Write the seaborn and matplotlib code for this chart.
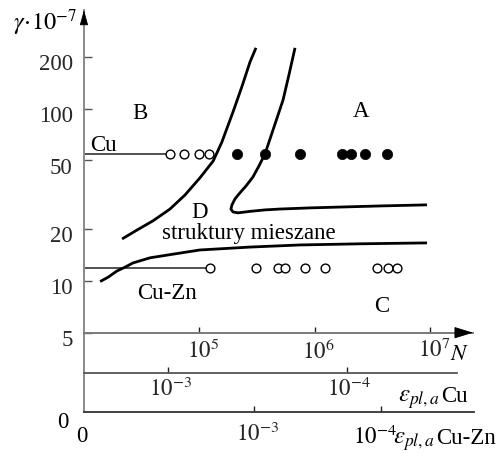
import matplotlib
matplotlib.use("Agg")
import matplotlib.pyplot as plt
import matplotlib.transforms as mtransforms
from matplotlib.ticker import NullLocator
import seaborn as sns

# ---------------------------------------------------------------- data
# Cu specimens (one shear-strain level): open = no localisation, filled = localisation
cu_gamma = 54.3
cu_open_N = [5.57e4, 7.37e4, 9.94e4, 1.21e5]
cu_filled_N = [2.14e5, 3.71e5, 7.46e5, 1.72e6, 2.07e6, 2.73e6, 4.26e6]

# Cu-Zn specimens
cuzn_gamma = 11.8
cuzn_open_N = [1.24e5, 3.10e5, 4.84e5, 5.53e5, 8.25e5, 1.23e6, 3.45e6, 4.35e6, 5.14e6]

# boundary between fields B and D
bd_N = [2.14e4, 2.88e4, 3.97e4, 5.57e4, 7.52e4, 1.01e5, 1.32e5, 1.57e5,
        1.96e5, 2.35e5, 2.75e5, 3.10e5]
bd_gamma = [17.5, 19.7, 22.3, 26.1, 31.5, 39.5, 49.6, 63.9,
            95.5, 135, 186, 225]

# boundary of field A (turns into the upper edge of the mixed-structure band)
da_N = [6.76e5, 5.99e5, 5.32e5, 4.72e5, 4.27e5, 3.71e5, 3.29e5, 2.92e5,
        2.54e5, 2.25e5, 2.04e5, 1.92e5, 1.88e5, 1.96e5, 2.17e5, 2.75e5,
        3.71e5, 5.0e5, 9.11e5, 1.66e6, 3.69e6, 9.42e6]
da_gamma = [225, 157, 112, 88.1, 72.1, 54.5, 46.4, 40.1,
            35.5, 32.4, 29.9, 27.6, 26.1, 25.1, 24.8, 25.3,
            25.8, 26.1, 26.5, 26.8, 27.2, 27.6]

# lower edge of the mixed-structure band (above field C)
mc_N = [1.38e4, 1.62e4, 1.93e4, 2.27e4, 2.66e4, 3.74e4, 5.25e4, 1.01e5,
        2.75e5, 7.46e5, 2.47e6, 9.42e6]
mc_gamma = [9.9, 10.5, 11.4, 12.0, 12.7, 13.6, 14.1, 15.1,
            15.7, 16.15, 16.4, 16.6]

gamma_ticks = [5, 10, 20, 50, 100, 200]
N_ticks = [1e5, 1e6, 1e7]
N_tick_labels = [r"$10^{5}$", r"$10^{6}$", r"$10^{7}$"]
eps_ticks = [1e-3, 1e-4]
eps_tick_labels = [r"$10^{-3}$", r"$10^{-4}$"]

N_lim = (1e4, 2.36e7)
gamma_lim = (5, 373)
eps_cu_lim = (10 ** -2.5288, 10 ** -4.6128)
eps_cuzn_lim = (10 ** -1.6579, 10 ** -4.7364)

# ---------------------------------------------------------------- style
sns.set_theme(style="white")
plt.rcParams["font.family"] = ["Liberation Serif", "DejaVu Serif"]
plt.rcParams["mathtext.fontset"] = "stix"
FS = 16.5

W, H = 497, 454
fig = plt.figure(figsize=(W / 100, H / 100), dpi=100)


def box(x0, y0, x1, y1):
    """Axes rectangle from pixel edges measured from the top-left corner."""
    return [x0 / W, (H - y1) / H, (x1 - x0) / W, (y1 - y0) / H]


def shift(labels, dx_px, dy_px):
    off = mtransforms.ScaledTranslation(dx_px / 100, dy_px / 100, fig.dpi_scale_trans)
    for lb in labels:
        lb.set_transform(lb.get_transform() + off)


AXIS_GREY = "#8a8a8a"

# strain-amplitude scales below the main diagram
ax_zn = fig.add_axes(box(83.95, 332.7, 474, 411.7))
ax_cu = fig.add_axes(box(83.95, 332.7, 457, 373.3))
ax = fig.add_axes(box(83.95, 10, 473, 332.7))
for a in (ax_zn, ax_cu, ax):
    a.set_facecolor("none")

# ---- main log-log diagram
ax.set(xscale="log", yscale="log", xlim=N_lim, ylim=gamma_lim)
for name in ("top", "right"):
    ax.spines[name].set_visible(False)
ax.spines["left"].set_color(AXIS_GREY)
ax.spines["left"].set_linewidth(1.4)
ax.spines["bottom"].set_color("#7a7a7a")
ax.spines["bottom"].set_linewidth(1.4)

for xs, ys in ((bd_N, bd_gamma), (da_N, da_gamma), (mc_N, mc_gamma)):
    sns.lineplot(x=xs, y=ys, sort=False, estimator=None, color="black",
                 linewidth=2.0, ax=ax, solid_capstyle="butt",
                 solid_joinstyle="round", zorder=2)

ax.hlines(cu_gamma, N_lim[0], cu_open_N[0], color="#222222", linewidth=1.1, zorder=1)
ax.hlines(cuzn_gamma, N_lim[0], cuzn_open_N[0], color="#222222", linewidth=1.1, zorder=1)

sns.scatterplot(x=cu_open_N, y=[cu_gamma] * len(cu_open_N), marker="o", s=40,
                color="white", edgecolor="black", linewidth=1.0, ax=ax, zorder=3)
sns.scatterplot(x=cuzn_open_N, y=[cuzn_gamma] * len(cuzn_open_N), marker="o", s=40,
                color="white", edgecolor="black", linewidth=1.0, ax=ax, zorder=3)
sns.scatterplot(x=cu_filled_N, y=[cu_gamma] * len(cu_filled_N), marker="o", s=55,
                color="black", edgecolor="black", linewidth=0.5, ax=ax, zorder=3)

ax.set_yticks(gamma_ticks, labels=[str(v) for v in gamma_ticks])
ax.set_xticks(N_ticks, labels=N_tick_labels)
ax.xaxis.set_minor_locator(NullLocator())
ax.yaxis.set_minor_locator(NullLocator())
ax.tick_params(axis="y", direction="in", length=5.8, width=1, color="#555555",
               pad=8.1, labelsize=FS, left=True)
ax.tick_params(axis="x", direction="in", length=4.3, width=1, color="#222222",
               pad=4.5, labelsize=FS, bottom=True)
shift(ax.get_yticklabels(), 0, -5.5)
shift(ax.get_xticklabels(), 4, 0)
ax.set_xlabel("")
ax.set_ylabel("")

# axis arrow heads
arrow = dict(color="black", lw=0.6, shrinkA=0, shrinkB=0, mutation_scale=10)
ax.annotate("", xy=(0, 1.0), xytext=(0, 0.975), xycoords="axes fraction",
            arrowprops=dict(arrowstyle="-|>,head_length=0.95,head_width=0.26", **arrow),
            annotation_clip=False)
ax.annotate("", xy=(1.0, 0), xytext=(0.975, 0), xycoords="axes fraction",
            arrowprops=dict(arrowstyle="-|>,head_length=1.2,head_width=0.37", **arrow),
            annotation_clip=False)

# ---- ε scale for Cu
ax_cu.set(xscale="log", xlim=eps_cu_lim, yticks=[])
for name in ("top", "right", "left"):
    ax_cu.spines[name].set_visible(False)
ax_cu.spines["bottom"].set_color("#555555")
ax_cu.spines["bottom"].set_linewidth(1.3)
ax_cu.set_xticks(eps_ticks, labels=eps_tick_labels)
ax_cu.xaxis.set_minor_locator(NullLocator())
ax_cu.tick_params(axis="x", direction="in", length=4.1, width=1, color="#222222",
                  pad=3.5, labelsize=FS, bottom=True)
shift(ax_cu.get_xticklabels(), 2, 0)

# ---- ε scale for Cu-Zn
ax_zn.set(xscale="log", xlim=eps_cuzn_lim, yticks=[])
for name in ("top", "right"):
    ax_zn.spines[name].set_visible(False)
ax_zn.spines["left"].set_color(AXIS_GREY)
ax_zn.spines["left"].set_linewidth(1.4)
ax_zn.spines["bottom"].set_color("#333333")
ax_zn.spines["bottom"].set_linewidth(1.3)
ax_zn.set_xticks(eps_ticks, labels=[eps_tick_labels[0], ""])
ax_zn.xaxis.set_minor_locator(NullLocator())
ax_zn.tick_params(axis="x", direction="in", length=4.1, width=1, color="#222222",
                  pad=8.0, labelsize=FS, bottom=True)
shift(ax_zn.get_xticklabels(), 4, 0)

# ---------------------------------------------------------------- texts
def fig_text(x, y_from_top, s, ha="left", size=FS, **kw):
    fig.text(x / W, (H - y_from_top) / H, s, ha=ha, va="baseline", fontsize=size,
             color="black", **kw)


# field letters and notes, placed in (N, γ)
for s, xy, ha in (("B", (3.06e4, 87.0), "center"),
                  ("A", (2.50e6, 89.3), "center"),
                  ("C", (3.84e6, 6.60), "center"),
                  ("D", (1.00e5, 23.2), "center"),
                  ("struktury mieszane", (4.75e4, 17.6), "left"),
                  ("Cu", (1.13e4, 56.7), "left"),
                  ("Cu-Zn", (2.88e4, 7.85), "left")):
    ax.text(*xy, s, ha=ha, va="baseline", fontsize=FS, color="black", zorder=4)

fig_text(13, 30, r"$\gamma\!\cdot\!10^{-7}$", size=17.5)
fig_text(450, 360, r"$N$")

# strain-amplitude captions
fig_text(398, 401.7, r"$\varepsilon_{pl,a}$", size=18)
fig_text(468, 401.7, "Cu", ha="right")

fig_text(353, 444, r"$10^{-4}$")
fig_text(393, 444, r"$\varepsilon_{pl,a}$", size=18)
fig_text(496, 444, "Cu-Zn", ha="right")

fig_text(68.3, 428.3, "0", ha="right")
fig_text(82, 441.7, "0", ha="center")

fig.savefig("out.png", dpi=100)
